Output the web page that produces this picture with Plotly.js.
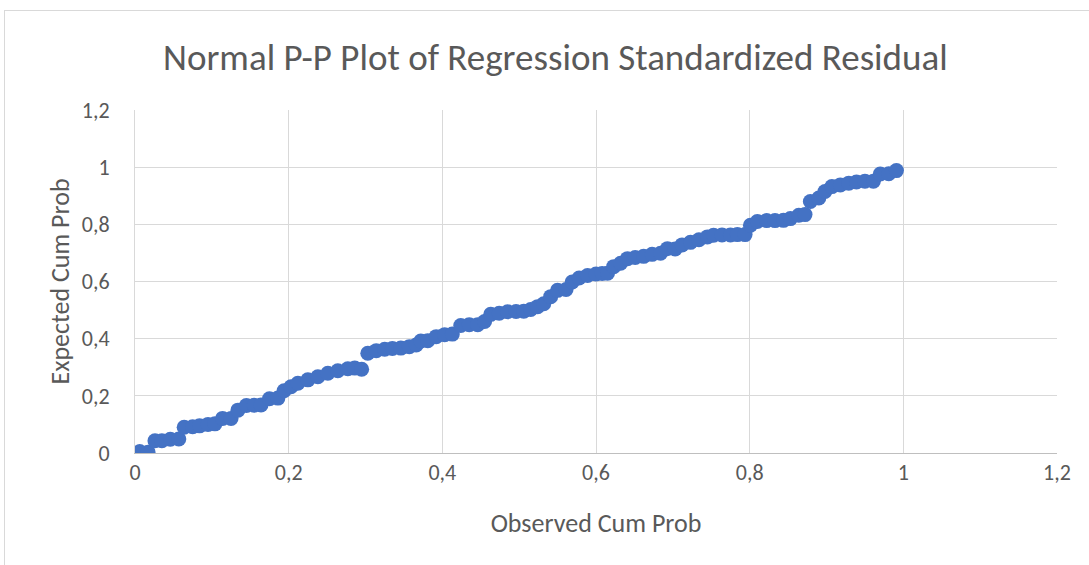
<!DOCTYPE html>
<html>
<head>
<meta charset="utf-8">
<script src="https://cdn.plot.ly/plotly-3.0.1.min.js"></script>
<style>
  html, body { margin: 0; padding: 0; background: #ffffff; }
  #wrap { position: relative; width: 1089px; height: 565px; overflow: hidden; }
  #chart { position: absolute; left: 0; top: 0; width: 1089px; height: 565px; }
  #frame { position: absolute; left: 4px; top: 10px; width: 1200px; height: 700px;
           border: 1px solid #d9d9d9; box-sizing: border-box; pointer-events: none; }
</style>
</head>
<body>
<div id="wrap">
  <div id="chart"></div>
  <div id="frame"></div>
</div>
<script>
const chartTitle = "Normal P-P Plot of Regression Standardized Residual";
const xAxisTitle = "Observed Cum Prob";
const yAxisTitle = "Expected Cum Prob";

const observedCumProb = [
  0.006, 0.017, 0.026, 0.035, 0.046, 0.057, 0.064, 0.075, 0.084, 0.095,
  0.104, 0.114, 0.125, 0.134, 0.145, 0.155, 0.164, 0.175, 0.186, 0.194,
  0.203, 0.212, 0.225, 0.238, 0.251, 0.264, 0.277, 0.286, 0.295, 0.303,
  0.314, 0.325, 0.335, 0.346, 0.357, 0.366, 0.372, 0.381, 0.392, 0.403,
  0.413, 0.424, 0.435, 0.446, 0.455, 0.463, 0.474, 0.485, 0.496, 0.506,
  0.515, 0.524, 0.532, 0.541, 0.550, 0.561, 0.569, 0.578, 0.589, 0.600,
  0.608, 0.615, 0.623, 0.632, 0.641, 0.651, 0.662, 0.673, 0.684, 0.693,
  0.703, 0.712, 0.723, 0.734, 0.745, 0.753, 0.764, 0.775, 0.784, 0.794,
  0.801, 0.810, 0.822, 0.833, 0.844, 0.853, 0.864, 0.872, 0.879, 0.890,
  0.898, 0.907, 0.918, 0.929, 0.939, 0.950, 0.961, 0.970, 0.981, 0.991
];

const expectedCumProb = [
  0.005, 0.003, 0.043, 0.043, 0.048, 0.049, 0.090, 0.092, 0.095, 0.100,
  0.102, 0.121, 0.121, 0.150, 0.166, 0.167, 0.168, 0.190, 0.192, 0.218,
  0.232, 0.244, 0.256, 0.267, 0.279, 0.288, 0.295, 0.297, 0.293, 0.349,
  0.358, 0.363, 0.366, 0.367, 0.372, 0.378, 0.392, 0.393, 0.407, 0.414,
  0.416, 0.446, 0.449, 0.449, 0.460, 0.485, 0.489, 0.494, 0.495, 0.496,
  0.502, 0.512, 0.522, 0.547, 0.569, 0.572, 0.598, 0.612, 0.621, 0.626,
  0.628, 0.629, 0.652, 0.664, 0.680, 0.684, 0.688, 0.695, 0.699, 0.715,
  0.714, 0.728, 0.737, 0.746, 0.756, 0.762, 0.763, 0.763, 0.764, 0.764,
  0.797, 0.810, 0.813, 0.813, 0.814, 0.820, 0.832, 0.834, 0.880, 0.892,
  0.915, 0.932, 0.938, 0.944, 0.948, 0.951, 0.951, 0.976, 0.977, 0.988
];

const tickVals = [0, 0.2, 0.4, 0.6, 0.8, 1, 1.2];
const tickText = ["0", "0,2", "0,4", "0,6", "0,8", "1", "1,2"];

const textColor = "#595959";
const fontFam = "Calibri, Carlito, 'Open Sans', 'Noto Sans', sans-serif";

const trace = {
  type: "scatter",
  mode: "markers",
  x: observedCumProb,
  y: expectedCumProb,
  marker: { color: "#4472C4", size: 15, line: { width: 0 } },
  hoverinfo: "x+y"
};

const layout = {
  width: 1089,
  height: 565,
  paper_bgcolor: "#ffffff",
  plot_bgcolor: "#ffffff",
  margin: { l: 135, r: 32, t: 110, b: 112 },
  showlegend: false,
  title: {
    text: chartTitle,
    font: { family: fontFam, size: 37, color: textColor },
    x: 0.51, xanchor: "center",
    y: 1 - 57 / 565, yanchor: "middle"
  },
  xaxis: {
    range: [0, 1.2],
    tickvals: tickVals,
    ticktext: tickText,
    showgrid: true,
    gridcolor: "#d9d9d9",
    gridwidth: 1,
    zeroline: false,
    showline: true,
    linecolor: "#bfbfbf",
    linewidth: 1,
    ticks: "",
    tickfont: { family: fontFam, size: 22, color: textColor },
    title: { text: xAxisTitle, font: { family: fontFam, size: 26, color: textColor }, standoff: 28 },
    fixedrange: true
  },
  yaxis: {
    range: [0, 1.2],
    tickvals: tickVals,
    ticktext: tickText,
    showgrid: true,
    gridcolor: "#d9d9d9",
    gridwidth: 1,
    zeroline: false,
    showline: true,
    linecolor: "#d9d9d9",
    linewidth: 1,
    ticks: "",
    ticklabelstandoff: 20,
    tickfont: { family: fontFam, size: 22, color: textColor },
    title: { text: yAxisTitle, font: { family: fontFam, size: 26, color: textColor }, standoff: 4 },
    fixedrange: true
  }
};

Plotly.newPlot("chart", [trace], layout, { displayModeBar: false, responsive: false });
</script>
</body>
</html>
